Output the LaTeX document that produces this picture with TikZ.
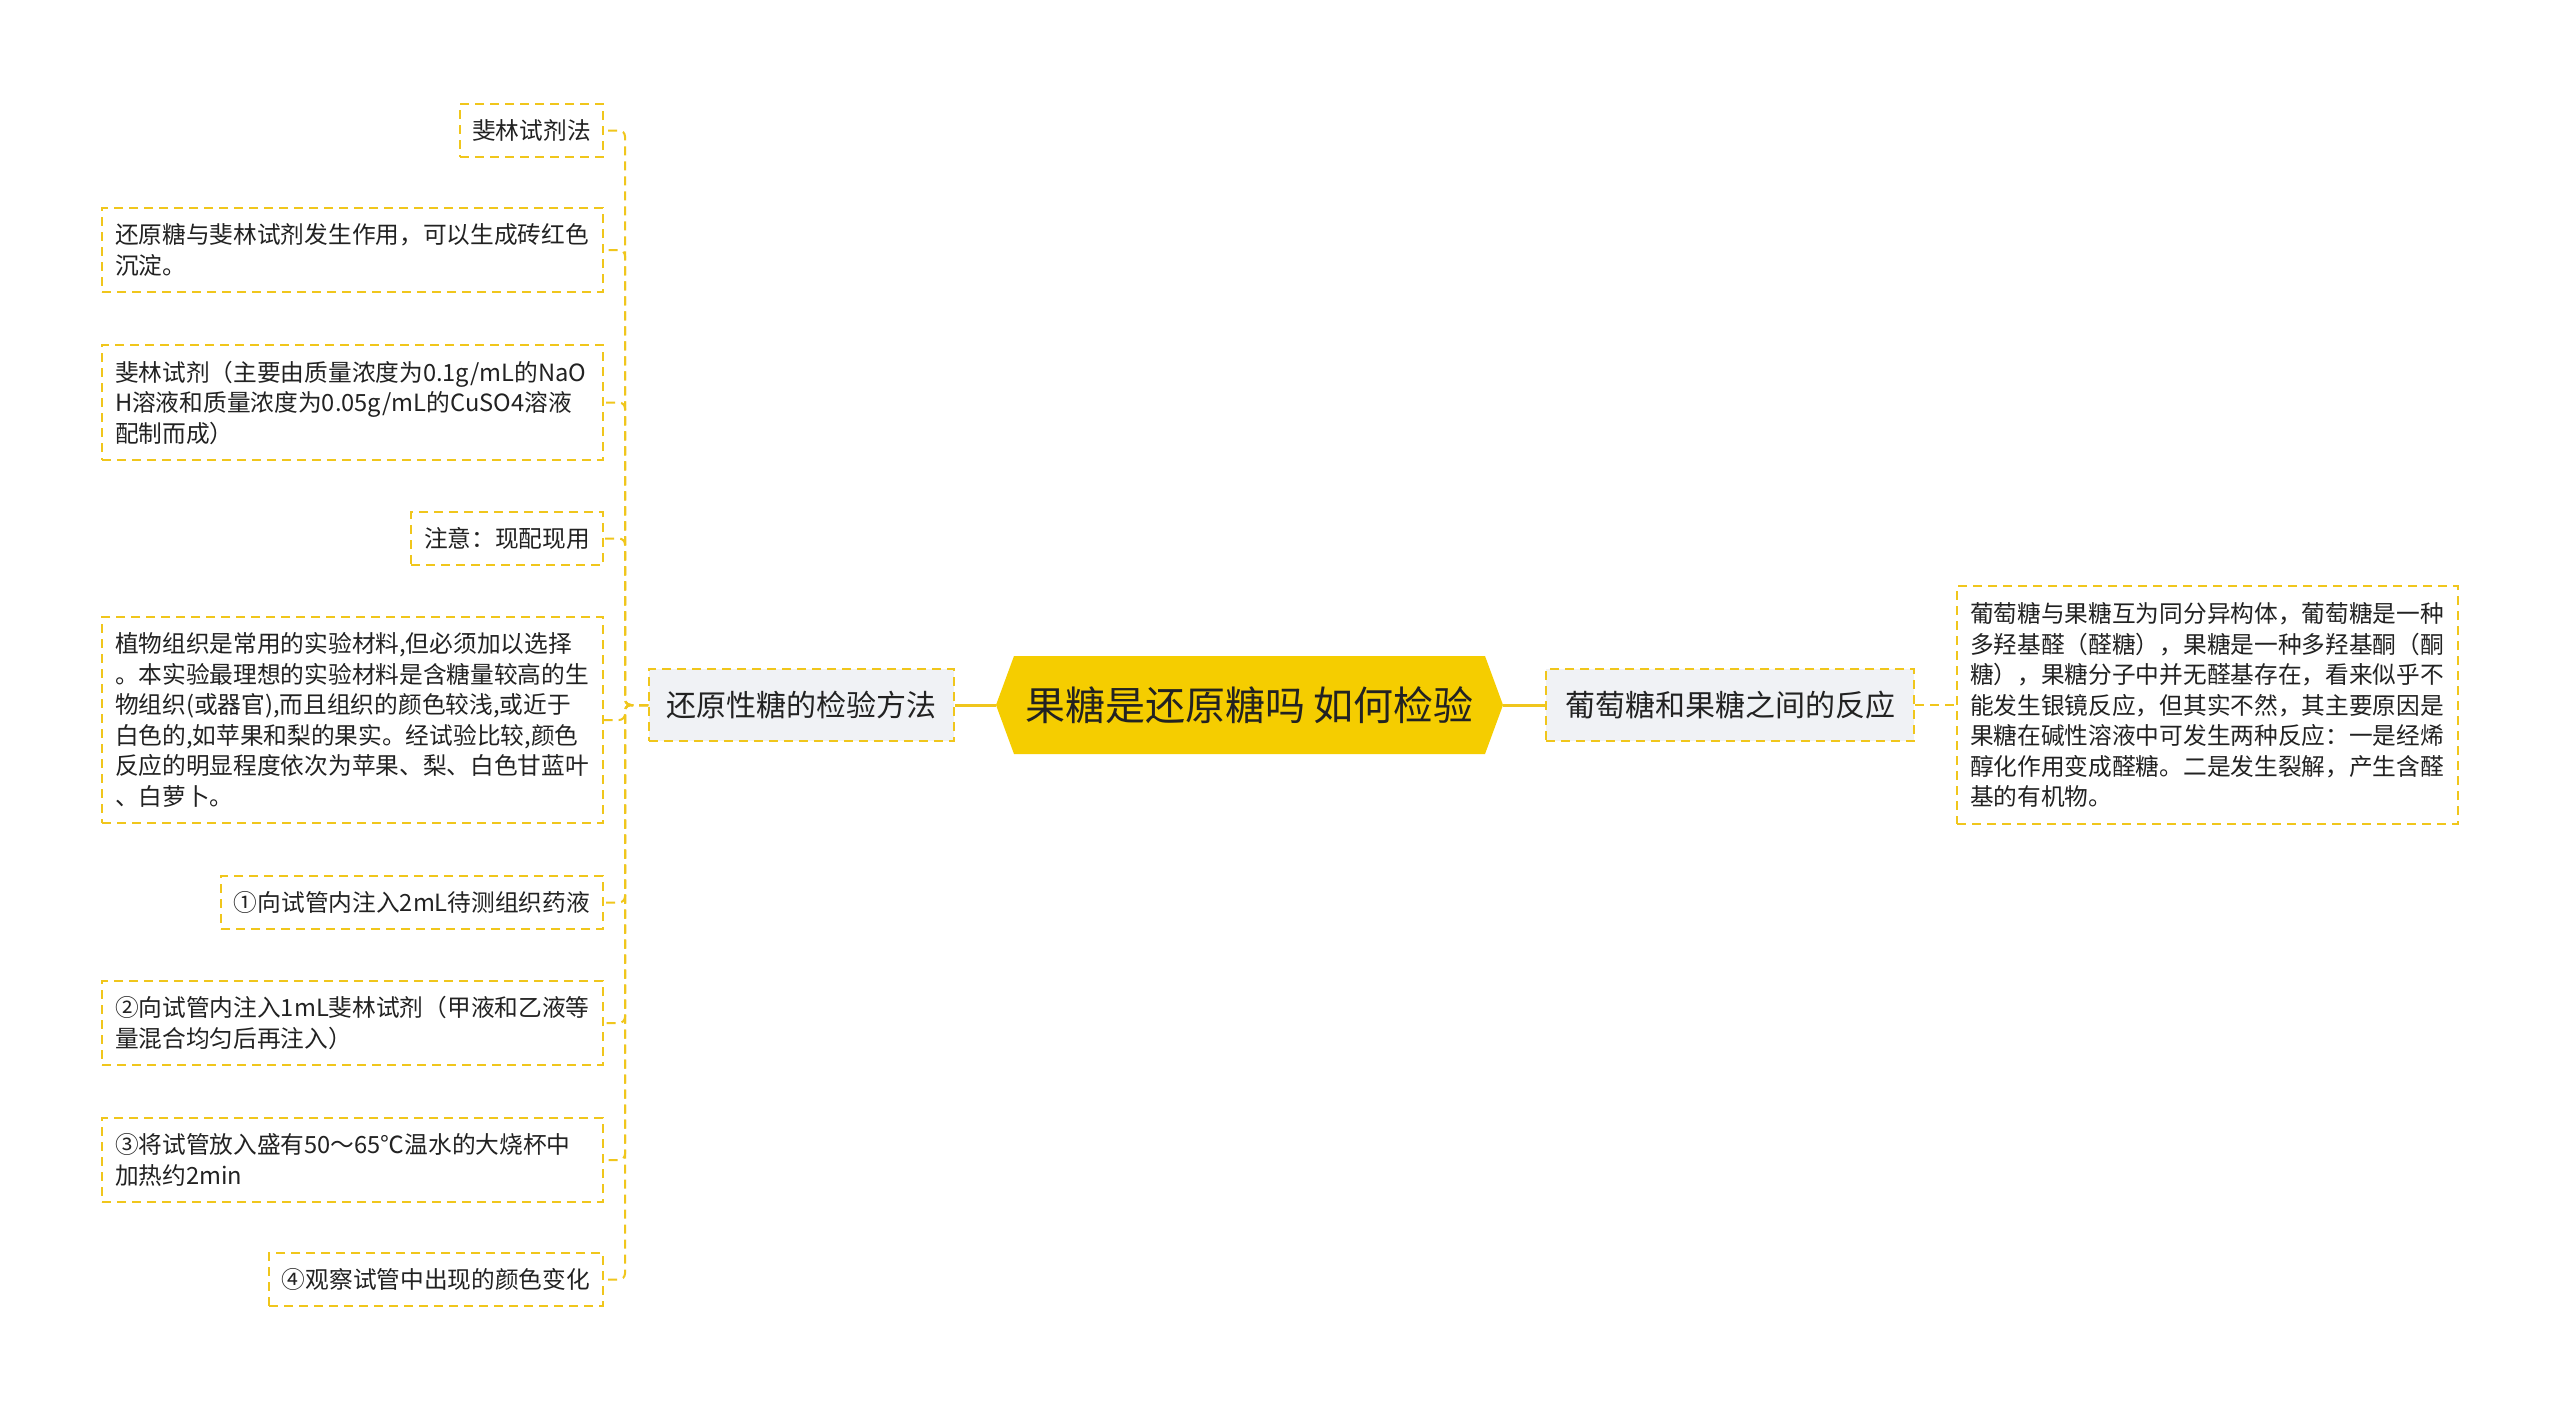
\documentclass[tikz,border=0pt]{standalone}
\usepackage{fontspec}
\setmainfont{Noto Sans CJK SC}
\usetikzlibrary{calc}
\definecolor{ylw}{RGB}{240,198,28}
\definecolor{hexfill}{RGB}{245,205,0}
\definecolor{grayfill}{RGB}{240,242,245}
\definecolor{txt}{RGB}{34,34,34}
\tikzset{
 leaf/.style={draw=ylw, line width=2pt, dash pattern=on 9pt off 6pt, inner sep=0pt, align=left, text=txt, font=\fontsize{23.7pt}{30.5pt}\selectfont, anchor=north west},
 multi/.style={text width=475pt, inner xsep=13pt},
 mid/.style={draw=ylw, fill=grayfill, line width=2pt, dash pattern=on 9pt off 6pt, inner sep=0pt, text=txt, font=\fontsize{30pt}{36pt}\selectfont, anchor=north west},
 solidc/.style={draw=ylw, line width=3pt},
 dashc/.style={draw=ylw, line width=2pt, dash pattern=on 9pt off 6pt, rounded corners=6pt},
}
\begin{document}
\begin{tikzpicture}[x=1pt,y=-1pt]
\useasboundingbox[fill=white] (0,0) rectangle (2560,1409);
% centre
\fill[hexfill] (996,705) -- (1014,656) -- (1485,656) -- (1503,705) -- (1485,754) -- (1014,754) -- cycle;
\node[minimum width=507pt, minimum height=98pt, inner sep=0pt, text=txt, font=\fontsize{40pt}{48pt}\selectfont] (C) at (1249.5,705) {果糖是还原糖吗 如何检验};
% level 1
\node[mid, minimum width=305pt, minimum height=72pt] (L) at (648,668) {还原性糖的检验方法};
\node[mid, minimum width=368pt, minimum height=72pt] (R) at (1545,668) {葡萄糖和果糖之间的反应};
% right detail
\node[leaf, multi, minimum width=501pt, minimum height=238pt] (RD) at (1956,585) {葡萄糖与果糖互为同分异构体，葡萄糖是一种\\多羟基醛（醛糖），果糖是一种多羟基酮（酮\\糖），果糖分子中并无醛基存在，看来似乎不\\能发生银镜反应，但其实不然，其主要原因是\\果糖在碱性溶液中可发生两种反应：一是经烯\\醇化作用变成醛糖。二是发生裂解，产生含醛\\基的有机物。};
% left leaves
\node[leaf, minimum width=143pt, minimum height=53pt] (n1) at (459,103) {斐林试剂法};
\node[leaf, multi, minimum width=501pt, minimum height=84pt] (n2) at (101,207) {还原糖与斐林试剂发生作用，可以生成砖红色\\沉淀。};
\node[leaf, multi, minimum width=501pt, minimum height=115pt] (n3) at (101,344) {斐林试剂（主要由质量浓度为0.1g/mL的NaO\\H溶液和质量浓度为0.05g/mL的CuSO4溶液\\配制而成）};
\node[leaf, minimum width=192pt, minimum height=53pt] (n4) at (410,511) {注意：现配现用};
\node[leaf, multi, minimum width=501pt, minimum height=206pt] (n5) at (101,616) {植物组织是常用的实验材料,但必须加以选择\\。本实验最理想的实验材料是含糖量较高的生\\物组织(或器官),而且组织的颜色较浅,或近于\\白色的,如苹果和梨的果实。经试验比较,颜色\\反应的明显程度依次为苹果、梨、白色甘蓝叶\\、白萝卜。};
\node[leaf, minimum width=382pt, minimum height=53pt] (n6) at (220,875) {①向试管内注入2mL待测组织药液};
\node[leaf, multi, minimum width=501pt, minimum height=84pt] (n7) at (101,980) {②向试管内注入1mL斐林试剂（甲液和乙液等\\量混合均匀后再注入）};
\node[leaf, multi, minimum width=501pt, minimum height=84pt] (n8) at (101,1117) {③将试管放入盛有50～65℃温水的大烧杯中\\加热约2min};
\node[leaf, minimum width=334pt, minimum height=53pt] (n9) at (268,1252) {④观察试管中出现的颜色变化};
% connectors
\draw[solidc] (C.west) -- (L.east);
\draw[solidc] (C.east) -- (R.west);
\draw[dashc] (R.east) -- (RD.west);
\foreach \n in {n1,n2,n3,n4,n5,n6,n7,n8,n9}{
  \draw[dashc] (L.west) -- ++(-23,0) |- (\n.east);
}
\end{tikzpicture}
\end{document}
